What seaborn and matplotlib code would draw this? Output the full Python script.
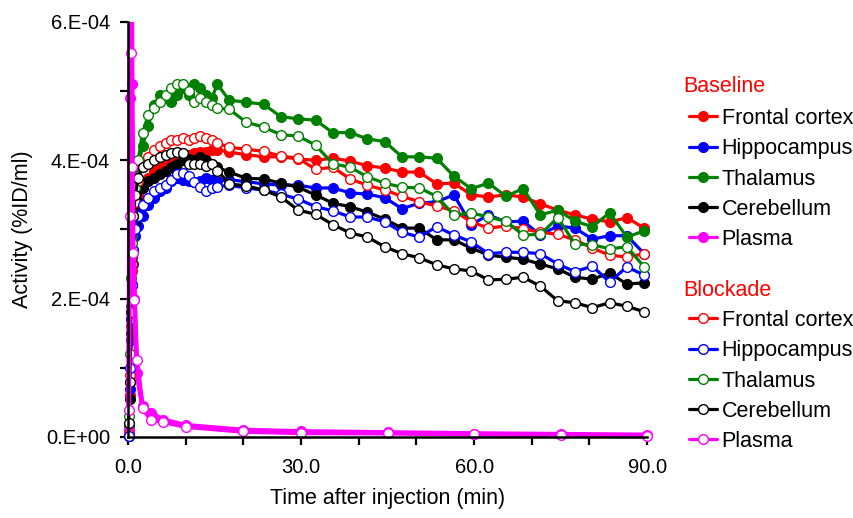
import numpy as np
import pandas as pd
import matplotlib
matplotlib.use("Agg")
import matplotlib.pyplot as plt
from matplotlib.lines import Line2D
from matplotlib.transforms import Bbox, TransformedBbox
import seaborn as sns

# ---------------- data (activity in units of 1E-4 %ID/ml) ----------------
SCALE = 1e-4
t_tissue = [0.1, 0.3, 0.5, 0.7, 0.9, 1.25, 1.75, 2.5, 3.5, 4.5, 5.5, 6.5, 7.5, 8.5,
            9.5, 10.5, 11.5, 12.5, 13.5, 14.5, 15.5, 17.5, 20.5, 23.5, 26.5, 29.5,
            32.5, 35.5, 38.5, 41.5, 44.5, 47.5, 50.5, 53.5, 56.5, 59.5, 62.5, 65.5,
            68.5, 71.5, 74.5, 77.5, 80.5, 83.5, 86.5, 89.5]
t_plasma = [0.1, 0.3, 0.5, 0.7, 0.9, 1.1, 1.5, 2.5, 4.0, 6.0, 10.0, 20.0, 30.0,
            45.0, 60.0, 75.0, 90.0]

fc_base = [0.05, 0.6, 1.6, 2.4, 2.9, 3.3, 3.5, 3.65, 3.75, 3.85, 3.9, 3.95, 4.0, 4.02,
           4.05, 4.08, 4.1, 4.12, 4.12, 4.15, 4.15,
           4.12, 4.08, 4.05, 4.05, 4.02, 4.00, 4.03, 3.99, 3.92, 3.89, 3.83, 3.83, 3.66,
           3.67, 3.50, 3.47, 3.50, 3.47, 3.37, 3.28, 3.21, 3.15, 3.11, 3.17, 3.02]
hip_base = [0.02, 0.7, 1.4, 2.0, 2.5, 2.9, 3.05, 3.2, 3.35, 3.45, 3.55, 3.6, 3.7, 3.75,
            3.72, 3.7, 3.68, 3.7, 3.75, 3.72, 3.7,
            3.72, 3.69, 3.66, 3.64, 3.64, 3.60, 3.60, 3.53, 3.51, 3.46, 3.30, 3.38, 3.40,
            3.50, 3.07, 3.21, 3.11, 3.12, 2.92, 3.05, 3.02, 2.86, 2.91, 2.91, 2.65]
thal_base = [0.15, 0.8, 1.9, 2.9, 3.4, 3.75, 3.9, 4.2, 4.5, 4.8, 4.95, 4.9, 4.85, 4.95,
             5.05, 4.95, 5.1, 5.05, 4.95, 4.9, 5.1,
             4.87, 4.84, 4.81, 4.63, 4.60, 4.58, 4.40, 4.40, 4.31, 4.27, 4.05, 4.05, 4.03,
             3.77, 3.59, 3.67, 3.48, 3.59, 3.21, 3.28, 3.12, 3.04, 3.24, 2.89, 2.98]
cer_base = [0.02, 0.55, 1.5, 2.2, 2.7, 3.1, 3.4, 3.6, 3.7, 3.75, 3.8, 3.85, 3.9, 3.95,
            4.0, 4.02, 4.0, 4.05, 4.0, 3.95, 3.9,
            3.83, 3.74, 3.73, 3.67, 3.61, 3.50, 3.38, 3.33, 3.25, 3.15, 3.02, 3.02, 2.85,
            2.85, 2.73, 2.63, 2.60, 2.57, 2.50, 2.43, 2.31, 2.28, 2.37, 2.21, 2.23]
plasma_base = [0.1, 4.9, 8.5, 5.1, 3.0, 2.0, 0.92, 0.45, 0.35, 0.25, 0.17, 0.1, 0.08,
               0.065, 0.05, 0.04, 0.03]

fc_block = [0.05, 0.9, 1.7, 2.5, 3.0, 3.4, 3.7, 3.95, 4.05, 4.15, 4.2, 4.25, 4.3, 4.3,
            4.32, 4.3, 4.32, 4.35, 4.32, 4.3, 4.25,
            4.19, 4.16, 4.13, 4.06, 4.03, 3.87, 3.90, 3.73, 3.64, 3.57, 3.48, 3.40, 3.34,
            3.27, 3.11, 3.02, 3.05, 3.01, 2.96, 2.93, 2.85, 2.73, 2.63, 2.60, 2.65]
hip_block = [0.02, 1.0, 1.7, 2.2, 2.7, 3.0, 3.2, 3.35, 3.45, 3.55, 3.6, 3.65, 3.72, 3.8,
             3.82, 3.78, 3.68, 3.62, 3.55, 3.6, 3.62,
             3.64, 3.60, 3.57, 3.51, 3.44, 3.33, 3.27, 3.18, 3.18, 3.11, 2.96, 2.89, 3.04,
             2.92, 2.82, 2.65, 2.67, 2.67, 2.65, 2.50, 2.39, 2.47, 2.24, 2.46, 2.34]
thal_block = [0.3, 1.2, 2.3, 2.8, 3.2, 3.6, 4.0, 4.4, 4.65, 4.75, 4.85, 4.95, 5.05, 5.1,
              5.1, 5.0, 4.85, 4.9, 4.85, 4.8, 4.75,
              4.74, 4.55, 4.48, 4.37, 4.35, 4.22, 3.95, 3.90, 3.76, 3.67, 3.61, 3.60, 3.48,
              3.21, 3.24, 3.18, 3.12, 2.92, 2.93, 3.17, 2.79, 2.78, 2.72, 2.75, 2.46]
cer_block = [0.2, 0.8, 1.8, 2.6, 3.2, 3.5, 3.75, 3.9, 3.95, 4.0, 4.05, 4.08, 4.1, 4.12,
             4.1, 3.95, 3.95, 3.95, 3.92, 3.95, 3.85,
             3.66, 3.63, 3.57, 3.47, 3.28, 3.22, 3.07, 2.95, 2.89, 2.75, 2.65, 2.59, 2.49,
             2.43, 2.40, 2.27, 2.28, 2.31, 2.18, 1.97, 1.94, 1.87, 1.94, 1.89, 1.81]
plasma_block = [0.39, 3.2, 5.55, 3.9, 2.66, 1.98, 1.11, 0.42, 0.25, 0.22, 0.15, 0.08,
                0.06, 0.055, 0.04, 0.025, 0.015]

regions = ["Frontal cortex", "Hippocampus", "Thalamus", "Cerebellum", "Plasma"]
colors = ["#FF0000", "#0000FF", "#008000", "#000000", "#FF00FF"]
baseline = [fc_base, hip_base, thal_base, cer_base, plasma_base]
blockade = [fc_block, hip_block, thal_block, cer_block, plasma_block]
group_titles = ["Baseline", "Blockade"]

x_ticks = [0, 30, 60, 90]
x_ticklabels = ["0.0", "30.0", "60.0", "90.0"]
x_minor = [10, 20, 40, 50, 70, 80]
y_ticks = [0, 2e-4, 4e-4, 6e-4]
y_ticklabels = ["0.E+00", "2.E-04", "4.E-04", "6.E-04"]
y_minor = [1e-4, 3e-4, 5e-4]

# ---------------- style ----------------
sns.set_style("ticks")
plt.rcParams["font.family"] = ["Liberation Sans", "DejaVu Sans"]
for k in ["text.color", "axes.labelcolor", "xtick.color", "ytick.color", "axes.edgecolor"]:
    plt.rcParams[k] = "black"
FS = 15.5      # labels and legend
FS_TICK = 14.5
LW = 2.3
MS = 7.0

fig = plt.figure(figsize=(8.54, 5.18), dpi=100)
ax = fig.add_axes([0.150, 0.1564, 0.6077, 0.8012])

clipbox = TransformedBbox(Bbox([[-0.05, -0.05], [1.05, 1.0]]), ax.transAxes)

def draw(vals_list, filled):
    for name, col, vals in zip(regions, colors, vals_list):
        t = t_plasma if name == "Plasma" else t_tissue
        df = pd.DataFrame({"t": t, "v": np.array(vals) * SCALE})
        lw = 3.4 if name == "Plasma" else LW
        n0 = len(ax.lines)
        sns.lineplot(data=df, x="t", y="v", ax=ax, color=col, lw=lw,
                     marker="o", markersize=MS,
                     markerfacecolor=col if filled else "white",
                     markeredgecolor=col, markeredgewidth=1.0,
                     estimator=None, sort=False, legend=False)
        for ln in ax.lines[n0:]:
            ln.set_clip_box(clipbox)

draw(baseline, True)
draw(blockade, False)

ax.set_xlim(0, 90)
ax.set_ylim(0, 6e-4)
ax.set_xticks(x_ticks)
ax.set_xticklabels(x_ticklabels)
ax.set_xticks(x_minor, minor=True)
ax.set_yticks(y_ticks)
ax.set_yticklabels(y_ticklabels)
ax.set_yticks(y_minor, minor=True)
ax.tick_params(which="both", direction="out", length=6, width=1.6, color="black",
               labelsize=FS_TICK, labelcolor="black")
ax.tick_params(axis="y", pad=7)
ax.tick_params(axis="x", pad=9)
sns.despine(ax=ax)
for s in ["left", "bottom"]:
    ax.spines[s].set_linewidth(1.8)
    ax.spines[s].set_color("black")

ax.set_xlabel("Time after injection (min)", fontsize=FS, labelpad=8, color="black")
ax.set_ylabel("Activity (%ID/ml)", fontsize=FS, labelpad=9, color="black")

# ---------------- legends ----------------
def make_handles(filled):
    hs = []
    for name, col in zip(regions, colors):
        hs.append(Line2D([0], [0], color=col, lw=LW, marker="o", markersize=MS,
                         markerfacecolor=col if filled else "white",
                         markeredgecolor=col, markeredgewidth=1.0))
    return hs

leg_kw = dict(frameon=False, fontsize=FS, handlelength=1.3, handletextpad=0.22,
              labelspacing=0.43, borderpad=0, borderaxespad=0, loc="upper left",
              bbox_transform=fig.transFigure)
title_y = [87, 290]
entry_top = [108, 310]
for i, filled in enumerate([True, False]):
    fig.text(683 / 854, 1 - title_y[i] / 518, group_titles[i], color="#FF0000",
             fontsize=FS, ha="left", va="center")
    leg = ax.legend(make_handles(filled), regions,
                    bbox_to_anchor=(689 / 854, 1 - entry_top[i] / 518), **leg_kw)
    for txt in leg.get_texts():
        txt.set_color("black")
    if i == 0:
        ax.add_artist(leg)

fig.savefig("out.png", dpi=100)
